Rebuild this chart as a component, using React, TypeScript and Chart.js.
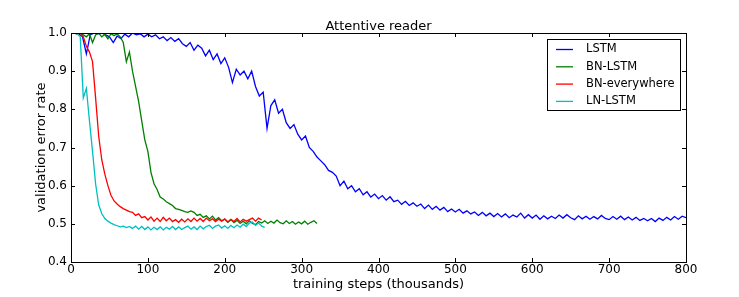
import React, { useEffect, useRef } from "react";
import { Chart, registerables } from "chart.js";

Chart.register(...registerables);

const FONT = "DejaVu Sans";

const xTicks = [0, 100, 200, 300, 400, 500, 600, 700, 800];
const yTicks = [0.4, 0.5, 0.6, 0.7, 0.8, 0.9, 1.0];

const seriesNames = ["LSTM", "BN-LSTM", "BN-everywhere", "LN-LSTM"];
const seriesColors = ["#0000ff", "#008000", "#ff0000", "#00bfbf"];

// sampling step (thousands of steps) for each series
const lstmStep = 5;
const bnLstmStep = 4;
const bnEverywhereStep = 4;
const lnLstmStep = 4;

const lstmValues = [
  1.0, 1.0, 0.998, 0.99, 0.945, 0.995, 1.0, 0.998, 1.0, 0.995,
  0.99, 0.975, 0.992, 0.985, 0.997, 0.99, 1.0, 0.995, 0.998, 0.99,
  0.997, 0.99, 0.995, 0.985, 0.99, 0.98, 0.988, 0.978, 0.985, 0.972,
  0.965, 0.975, 0.955, 0.968, 0.96, 0.94, 0.955, 0.93, 0.945, 0.92,
  0.935, 0.91, 0.87, 0.905, 0.89, 0.9, 0.88, 0.9, 0.86, 0.835,
  0.845, 0.75, 0.81, 0.825, 0.79, 0.8, 0.765, 0.75, 0.76, 0.735,
  0.72, 0.73, 0.7, 0.69, 0.675, 0.665, 0.655, 0.64, 0.635, 0.625,
  0.6, 0.612, 0.592, 0.6, 0.584, 0.592, 0.576, 0.584, 0.57, 0.578,
  0.566, 0.574, 0.562, 0.571, 0.558, 0.562, 0.551, 0.559, 0.548, 0.555,
  0.546, 0.552, 0.54, 0.549, 0.538, 0.546, 0.536, 0.543, 0.532, 0.539,
  0.531, 0.538, 0.528, 0.534, 0.526, 0.531, 0.522, 0.53, 0.521, 0.528,
  0.519, 0.527, 0.518, 0.526, 0.516, 0.523, 0.518, 0.528, 0.515, 0.524,
  0.515, 0.523, 0.512, 0.521, 0.513, 0.52, 0.514, 0.523, 0.515, 0.524,
  0.516, 0.511, 0.521, 0.513, 0.52, 0.512, 0.519, 0.513, 0.522, 0.514,
  0.511, 0.519, 0.512, 0.52, 0.511, 0.518, 0.51, 0.517, 0.509, 0.514,
  0.508, 0.514, 0.506, 0.515, 0.509, 0.517, 0.51, 0.519, 0.512, 0.52,
  0.516,
];

const bnLstmValues = [
  1.0, 1.0, 0.998, 1.0, 0.995, 0.99, 0.998, 0.975, 0.995, 1.0,
  0.99, 0.996, 0.985, 0.998, 0.993, 0.998, 0.99, 0.975, 0.925, 0.95,
  0.9, 0.86, 0.82, 0.77, 0.72, 0.69, 0.635, 0.605, 0.59, 0.57,
  0.565, 0.558, 0.553, 0.548, 0.54, 0.538, 0.535, 0.532, 0.53, 0.534,
  0.53, 0.522, 0.525, 0.517, 0.521, 0.513, 0.52, 0.51, 0.516, 0.508,
  0.512, 0.504, 0.511, 0.503, 0.509, 0.501, 0.507, 0.5, 0.508, 0.501,
  0.498, 0.506, 0.502, 0.508, 0.501, 0.507, 0.502, 0.51, 0.503, 0.5,
  0.508, 0.501, 0.506, 0.499, 0.505, 0.5, 0.507, 0.499, 0.504, 0.508,
  0.501,
];

const bnEverywhereValues = [
  1.0, 1.0, 0.998, 1.0, 0.99, 0.965, 0.95, 0.925, 0.83, 0.73,
  0.668, 0.63, 0.6, 0.575, 0.56, 0.552, 0.545, 0.54, 0.536, 0.532,
  0.53, 0.522, 0.526, 0.516, 0.519, 0.51, 0.518, 0.507, 0.515, 0.506,
  0.517, 0.508, 0.515, 0.506, 0.511, 0.504, 0.512, 0.505, 0.513, 0.506,
  0.515, 0.507, 0.514, 0.506, 0.515, 0.508, 0.513, 0.506, 0.512, 0.507,
  0.513, 0.505, 0.512, 0.506, 0.514, 0.505, 0.512, 0.507, 0.511, 0.515,
  0.507, 0.515, 0.51,
];

const lnLstmValues = [
  1.0, 1.0, 0.998, 0.99, 0.83, 0.855, 0.77, 0.69, 0.605, 0.55,
  0.527, 0.514, 0.507, 0.502, 0.498, 0.495, 0.492, 0.494, 0.49, 0.493,
  0.488, 0.494, 0.486, 0.493, 0.485, 0.492, 0.484, 0.491, 0.485, 0.492,
  0.484, 0.491, 0.486, 0.493, 0.485, 0.492, 0.485, 0.49, 0.494, 0.486,
  0.492, 0.485, 0.494, 0.487, 0.493, 0.496, 0.488, 0.494, 0.497, 0.489,
  0.495, 0.488, 0.496, 0.49, 0.497, 0.491, 0.499, 0.493, 0.502, 0.505,
  0.496, 0.502, 0.494, 0.491,
];

const toPoints = (vals: number[], step: number) =>
  vals.map((y, i) => ({ x: i * step, y }));

const framePlugin = {
  id: "frameTicksLegendTitle",
  afterDraw(chart: any) {
    const { ctx, chartArea } = chart;
    const { left, right, top, bottom } = chartArea;
    const xs = chart.scales.x;
    const ys = chart.scales.y;
    ctx.save();
    ctx.strokeStyle = "#000";
    ctx.lineWidth = 1;
    ctx.strokeRect(Math.round(left) + 0.5, Math.round(top) + 0.5, Math.round(right - left), Math.round(bottom - top));
    const tl = 4;
    ctx.beginPath();
    xTicks.forEach((v) => {
      const px = Math.round(xs.getPixelForValue(v)) + 0.5;
      ctx.moveTo(px, bottom);
      ctx.lineTo(px, bottom - tl);
      ctx.moveTo(px, top);
      ctx.lineTo(px, top + tl);
    });
    yTicks.forEach((v) => {
      const py = Math.round(ys.getPixelForValue(v)) + 0.5;
      ctx.moveTo(left, py);
      ctx.lineTo(left + tl, py);
      ctx.moveTo(right, py);
      ctx.lineTo(right - tl, py);
    });
    ctx.stroke();

    ctx.fillStyle = "#000";
    ctx.font = `13px "${FONT}"`;
    ctx.textAlign = "center";
    ctx.textBaseline = "alphabetic";
    ctx.fillText("Attentive reader", (left + right) / 2, 30);

    const bx = 547.5, by = 39.5, bw = 133, bh = 71;
    ctx.fillStyle = "#fff";
    ctx.fillRect(bx, by, bw, bh);
    ctx.strokeStyle = "#000";
    ctx.lineWidth = 1;
    ctx.strokeRect(bx, by, bw, bh);
    ctx.font = `11.5px "${FONT}"`;
    ctx.textAlign = "left";
    ctx.textBaseline = "middle";
    seriesNames.forEach((name, i) => {
      const ry = 49.5 + i * 17.3;
      ctx.strokeStyle = seriesColors[i];
      ctx.lineWidth = 1.3;
      ctx.beginPath();
      ctx.moveTo(556, ry);
      ctx.lineTo(573, ry);
      ctx.stroke();
      ctx.fillStyle = "#000";
      ctx.fillText(name, 586, ry);
    });
    ctx.restore();
  },
};

export default function App() {
  const canvasRef = useRef<HTMLCanvasElement | null>(null);

  useEffect(() => {
    if (!canvasRef.current) return;
    const datasets = [
      { vals: lstmValues, step: lstmStep },
      { vals: bnLstmValues, step: bnLstmStep },
      { vals: bnEverywhereValues, step: bnEverywhereStep },
      { vals: lnLstmValues, step: lnLstmStep },
    ].map((s, i) => ({
      label: seriesNames[i],
      data: toPoints(s.vals, s.step),
      borderColor: seriesColors[i],
      backgroundColor: seriesColors[i],
      borderWidth: 1.3,
      pointRadius: 0,
      tension: 0,
      fill: false,
      order: 4 - i,
    }));

    const chart = new Chart(canvasRef.current, {
      type: "line",
      data: { datasets },
      options: {
        animation: false,
        responsive: false,
        maintainAspectRatio: false,
        events: [],
        layout: { padding: { left: 0, right: 53, top: 33, bottom: 0 } },
        plugins: {
          legend: { display: false },
          title: { display: false },
          tooltip: { enabled: false },
        },
        scales: {
          x: {
            type: "linear",
            min: 0,
            max: 800,
            afterFit: (s: any) => {
              s.height = 35;
            },
            afterBuildTicks: (s: any) => {
              s.ticks = xTicks.map((v) => ({ value: v }));
            },
            ticks: {
              color: "#000",
              font: { family: FONT, size: 12 },
              padding: 1,
              maxRotation: 0,
              autoSkip: false,
              callback: (v: any) => String(v),
            },
            grid: { display: false, drawTicks: false },
            border: { display: false },
            title: {
              display: true,
              text: "training steps (thousands)",
              color: "#000",
              font: { family: FONT, size: 13 },
              padding: { top: 0, bottom: 5 },
            },
          },
          y: {
            type: "linear",
            min: 0.4,
            max: 1.0,
            afterFit: (s: any) => {
              s.width = 71;
            },
            afterBuildTicks: (s: any) => {
              s.ticks = yTicks.map((v) => ({ value: v }));
            },
            ticks: {
              color: "#000",
              font: { family: FONT, size: 12 },
              padding: 4,
              autoSkip: false,
              callback: (v: any) => Number(v).toFixed(1),
            },
            grid: { display: false, drawTicks: false },
            border: { display: false },
            title: {
              display: true,
              text: "validation error rate",
              color: "#000",
              font: { family: FONT, size: 13 },
              padding: { top: 34, bottom: 0 },
            },
          },
        },
      },
      plugins: [framePlugin],
    });
    return () => chart.destroy();
  }, []);

  return (
    <div style={{ position: "absolute", left: 0, top: 0, width: 739, height: 297, background: "#fff" }}>
      <canvas ref={canvasRef} width={739} height={297} style={{ display: "block" }} />
    </div>
  );
}
